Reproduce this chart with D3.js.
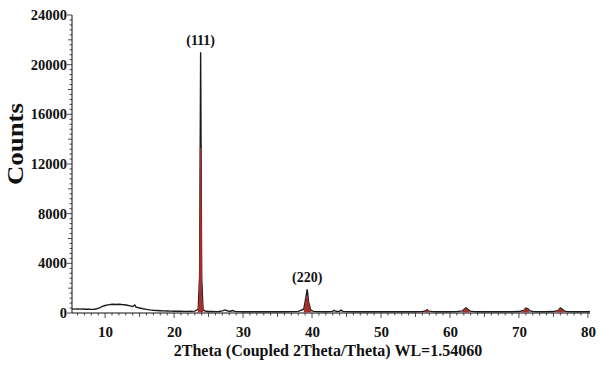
<!DOCTYPE html>
<html><head><meta charset="utf-8">
<script src="https://cdn.jsdelivr.net/npm/d3@7"></script>
<style>body{margin:0;background:#fff}svg{display:block}svg text{font-family:"Liberation Serif","Times New Roman",serif !important;font-weight:bold;fill:#111}</style>
</head><body>
<script>
// observed pattern (2θ, counts)
const obsTheta = [5.2,5.6,6.0,6.4,6.8,7.2,7.6,8.0,8.4,8.8,9.2,9.6,10.0,10.4,10.8,11.2,11.6,12.0,12.4,12.8,13.2,13.6,14.0,14.3,14.5,15.0,15.5,16.0,16.5,17.0,17.5,18.0,18.5,19.0,19.5,20.0,20.5,21.0,21.5,22.0,22.5,23.0,23.5,23.7,23.85,24.0,24.2,24.6,25.0,25.5,26.0,26.5,27.0,27.4,27.8,28.2,28.5,28.8,29.5,30,31,32,33,34,35,36,37,38,38.8,39.1,39.3,39.5,39.8,40.2,41,42,43,43.2,43.5,44,44.2,44.5,45,46,47,48,49,50,51,52,53,54,55,56,56.5,56.7,56.9,57.5,58,59,60,61,61.8,62.1,62.3,62.6,62.9,63.5,64,65,66,67,68,69,70,70.7,71.0,71.3,71.6,72,73,74,75,75.7,76.0,76.3,76.6,77,78,79,80,80.3];
const obsCounts = [330,315,335,310,325,300,315,290,305,340,420,530,600,650,690,700,680,710,680,660,620,570,520,640,470,400,340,290,250,220,200,185,170,160,150,145,140,135,130,130,135,150,300,3000,21000,2800,250,140,120,115,110,120,170,250,160,140,200,130,110,105,100,110,100,105,95,105,110,130,300,1200,1900,900,250,130,110,105,130,220,120,140,230,130,110,100,110,100,105,100,105,95,100,110,100,110,180,260,150,110,100,105,100,110,170,330,420,300,150,110,100,105,100,110,100,105,115,200,400,330,170,120,105,100,115,200,400,300,150,110,105,110,100,105];
// fitted peak profiles (red), NaN separates peaks
const fitTheta = [23.55,23.72,23.85,23.98,24.15,NaN,38.9,39.1,39.3,39.5,39.8,NaN,56.5,56.7,56.9,NaN,61.9,62.3,62.7,NaN,70.6,71.0,71.4,NaN,75.6,76.0,76.4];
const fitCounts = [150,1500,13300,1500,150,NaN,150,800,1300,600,150,NaN,110,180,110,NaN,120,330,120,NaN,120,330,120,NaN,120,330,120];
const xTicks = [10,20,30,40,50,60,70,80];
const yTicks = [0,4000,8000,12000,16000,20000,24000];
const peakLabels = ["(111)","(220)"];
const peakLabelTheta = [23.85,39.3];
const peakLabelCounts = [21000,1900];

const FONT='"Liberation Serif", "Times New Roman", serif';
const W=604,H=368;
const svg=d3.select("body").append("svg").attr("width",W).attr("height",H);
const x=d3.scaleLinear().domain([5.2,80.3]).range([72,590]);
const y=d3.scaleLinear().domain([0,24000]).range([313,15]);

// minor ticks
const gx=svg.append("g");
d3.range(6,81,1).forEach(v=>{
  const len = v%10===0?5:(v%5===0?4:2.5);
  gx.append("line").attr("x1",x(v)).attr("x2",x(v)).attr("y1",313).attr("y2",313+len).attr("stroke","#222").attr("stroke-width",0.8);
});
const gy=svg.append("g");
d3.range(0,24001,400).forEach(v=>{
  const len = v%4000===0?5:(v%2000===0?4:2.5);
  gy.append("line").attr("x1",72-len).attr("x2",72).attr("y1",y(v)).attr("y2",y(v)).attr("stroke","#222").attr("stroke-width",0.8);
});
// axis lines
svg.append("line").attr("x1",72).attr("x2",72).attr("y1",y(24000)).attr("y2",313).attr("stroke","#111");
svg.append("line").attr("x1",72).attr("x2",590).attr("y1",313).attr("y2",313).attr("stroke","#111");

// tick labels via d3 axes (lines hidden)
const ax=svg.append("g").attr("transform","translate(0,313)").call(d3.axisBottom(x).tickValues(xTicks).tickSize(0).tickPadding(13));
ax.attr("font-family",FONT).attr("font-size",15).attr("font-weight","bold");
ax.select(".domain").remove();
ax.selectAll("text").attr("fill","#111");
const ay=svg.append("g").attr("transform","translate(72,0)").call(d3.axisLeft(y).tickValues(yTicks).tickFormat(d3.format("d")).tickSize(0).tickPadding(5));
ay.attr("font-family",FONT).attr("font-size",14.5).attr("font-weight","bold");
ay.select(".domain").remove();
ay.selectAll("text").attr("fill","#111");

// observed
const obs=obsTheta.map((t,i)=>[t,obsCounts[i]]);
svg.append("path").datum(obs).attr("fill","none").attr("stroke","#1a1a1a").attr("stroke-width",1.4)
  .attr("d",d3.line().x(d=>x(d[0])).y(d=>y(d[1])));
// fit
const fit=fitTheta.map((t,i)=>[t,fitCounts[i]]);
svg.append("path").datum(fit).attr("fill","#a3302b").attr("stroke","#a3302b").attr("stroke-width",1.4)
  .attr("d",d3.area().defined(d=>!isNaN(d[0])).x(d=>x(d[0])).y0(y(90)).y1(d=>y(d[1])));

// peak labels
peakLabels.forEach((l,i)=>{
  svg.append("text").attr("x",x(peakLabelTheta[i])).attr("y",y(peakLabelCounts[i])-7).attr("text-anchor","middle")
    .attr("font-family",FONT).attr("font-weight","bold").attr("font-size",14).text(l);
});
// axis titles
svg.append("text").attr("x",328).attr("y",356).attr("text-anchor","middle").attr("font-family",FONT).attr("font-weight","bold").attr("font-size",16).text("2Theta (Coupled 2Theta/Theta) WL=1.54060");
svg.append("text").attr("transform","translate(23,144) rotate(-90)").attr("text-anchor","middle").attr("font-family",FONT).attr("font-weight","bold").attr("font-size",23)
  .attr("textLength",82).attr("lengthAdjust","spacingAndGlyphs").text("Counts");
</script>
</body></html>
